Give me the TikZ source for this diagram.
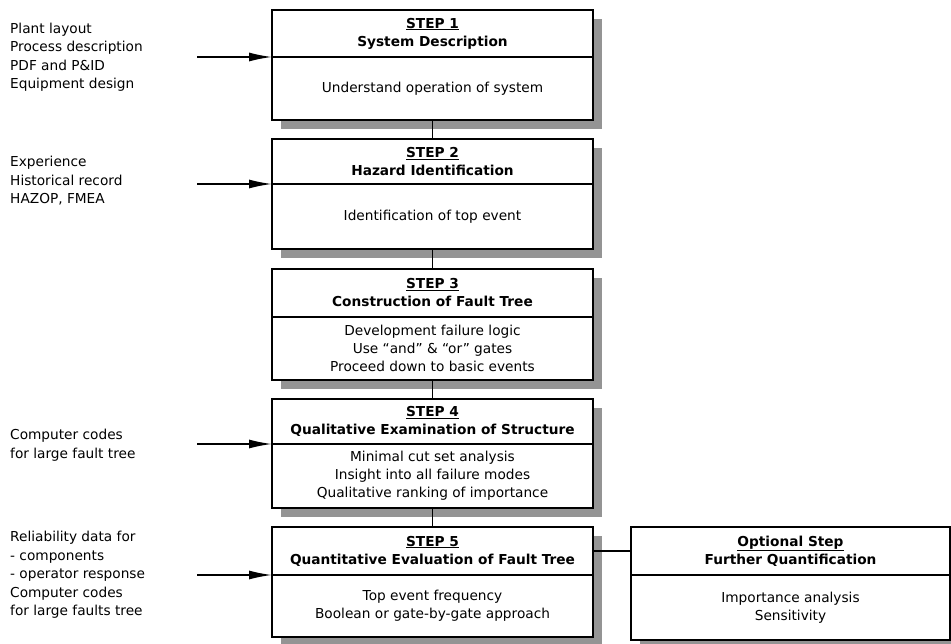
\documentclass[tikz,border=0pt]{standalone}
\usepackage{fontspec}
\setmainfont{DejaVu Sans}
\usetikzlibrary{arrows.meta,backgrounds}
\begin{document}
\begin{tikzpicture}[x=1pt,y=1pt,
  txt/.style={font=\fontsize{13.7}{18}\selectfont, align=center, inner sep=0pt, outer sep=0pt},
  hdr/.style={txt, draw, fill=white, line width=1.1pt, minimum width=321pt, font=\fontsize{13.7}{18}\selectfont\bfseries},
  bdy/.style={txt, draw, fill=white, line width=1.1pt, minimum width=321pt, anchor=north},
  lbl/.style={font=\fontsize{13.7}{18.5}\selectfont, align=left, anchor=west, inner sep=0pt},
  shd/.style={fill=black!42},
  inarrow/.style={line width=1.6pt, -{Latex[length=23pt,width=9pt]}},
  link/.style={line width=1.4pt}]
\useasboundingbox (0,0) rectangle (951,-644);

% step boxes
\node[hdr, minimum height=47pt] (h1) at (432.5,-33.5) {\underline{STEP 1}\\System Description};
\node[bdy, minimum height=63pt] (b1) at (h1.south) {Understand operation of system};

\node[hdr, minimum height=45pt] (h2) at (432.5,-161.5) {\underline{STEP 2}\\Hazard Identification};
\node[bdy, minimum height=65pt] (b2) at (h2.south) {Identification of top event};

\node[hdr, minimum height=48pt] (h3) at (432.5,-293) {\underline{STEP 3}\\Construction of Fault Tree};
\node[bdy, minimum height=63pt] (b3) at (h3.south) {Development failure logic\\Use “and” \& “or” gates\\Proceed down to basic events};

\node[hdr, minimum height=45pt] (h4) at (432.5,-421.5) {\underline{STEP 4}\\Qualitative Examination of Structure};
\node[bdy, minimum height=64pt] (b4) at (h4.south) {Minimal cut set analysis\\Insight into all failure modes\\Qualitative ranking of importance};

\node[hdr, minimum height=48pt] (h5) at (432.5,-551) {\underline{STEP 5}\\Quantitative Evaluation of Fault Tree};
\node[bdy, minimum height=62pt] (b5) at (h5.south) {Top event frequency\\Boolean or gate-by-gate approach};

\node[hdr, minimum width=319pt, minimum height=48pt] (ho) at (790.5,-551) {\underline{Optional Step}\\Further Quantification};
\node[bdy, minimum width=319pt, minimum height=65pt] (bo) at (ho.south) {Importance analysis\\Sensitivity};

% shadows
\begin{scope}[on background layer]
\fill[white] (0,0) rectangle (951,-644);
\foreach \h/\b in {h1/b1,h2/b2,h3/b3,h4/b4,h5/b5,ho/bo}
  \fill[shd] ([shift={(9,-9)}]\h.north west) rectangle ([shift={(9,-9)}]\b.south east);
\end{scope}

% vertical links
\draw[link] (b1.south) -- (h2.north);
\draw[link] (b2.south) -- (h3.north);
\draw[link] (b3.south) -- (h4.north);
\draw[link] (b4.south) -- (h5.north);
\draw[link] (h5.east) -- (ho.west);

% input labels
\node[lbl] (l1) at (10,-57) {Plant layout\\Process description\\PDF and P\&ID\\Equipment design};
\node[lbl] (l2) at (10,-181) {Experience\\Historical record\\HAZOP, FMEA};
\node[lbl] (l4) at (10,-445) {Computer codes\\for large fault tree};
\node[lbl] (l5) at (10,-575) {Reliability data for\\- components\\- operator response\\Computer codes\\for large faults tree};

% input arrows
\coordinate (a1) at (197,-57);
\coordinate (a2) at (197,-184);
\coordinate (a4) at (197,-444);
\coordinate (a5) at (197,-575);
\draw[inarrow] (a1) -- (h1.south west);
\draw[inarrow] (a2) -- (h2.south west);
\draw[inarrow] (a4) -- (h4.south west);
\draw[inarrow] (a5) -- (h5.south west);
\end{tikzpicture}
\end{document}
